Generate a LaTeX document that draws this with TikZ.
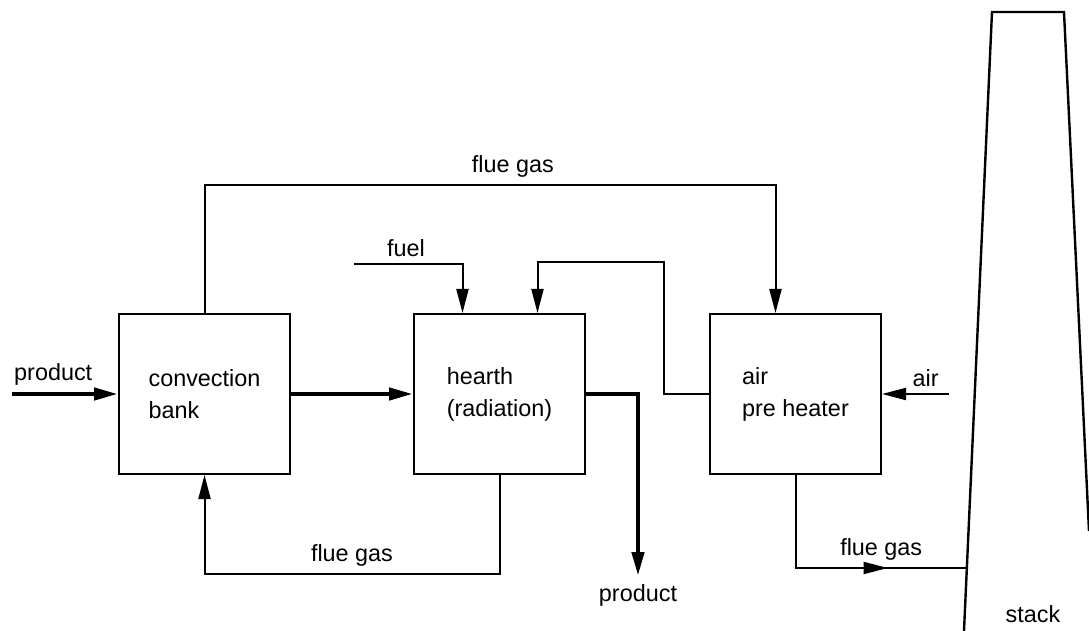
\documentclass[tikz,border=0pt]{standalone}
\usepackage{fontspec}
\setmainfont{Liberation Sans}
\usetikzlibrary{arrows.meta,positioning,calc,decorations.markings}
\tikzset{
  box/.style={draw,line width=1pt,minimum width=85.5pt,minimum height=80pt,align=left,inner sep=0pt},
  flow/.style={-{Triangle[length=12pt,width=6pt]},line width=1pt},
  thickflow/.style={flow,line width=2.2pt},
  midflow/.style={line width=1pt,postaction={decorate},
    decoration={markings,mark=at position 0.7 with {\arrow{Triangle[length=12pt,width=6pt]}}}},
  stackline/.style={line width=1.2pt,line join=miter}
}

\begin{document}
\begin{tikzpicture}[x=0.5pt,y=-0.5pt,node distance=61pt,font=\fontsize{11.7}{16}\selectfont]
  \useasboundingbox (0,0) rectangle (1089,631);
  \node[box] (conv) at (204.5,394) {convection\\bank};
  \node[box,right=of conv] (hearth) {hearth\\(radiation)};
  \node[box,right=61.5pt of hearth] (aph) {air\\pre heater};
  \coordinate (prodin) at (12,394);
  \coordinate (fuelin) at (354,264);
  \coordinate (airin) at (949,394);
  \coordinate (prodout) at (638,576);
  \coordinate (stackin) at (967,568);
  % stack
  \draw[stackline] (964,631) -- (992,12) -- (1064,12) -- (1089,531);
  \node (stacklabel) at (1033,614) {stack};
  % product line
  \draw[thickflow] (prodin) node[anchor=south west,inner xsep=0pt] {product} -- (conv.west);
  \draw[thickflow] (conv) -- (hearth);
  \draw[thickflow] (hearth.east) -| (prodout) node[below] {product};
  % fuel and air
  \draw[flow] (fuelin) -| node[pos=0.24,above] {fuel} ($(hearth.north)+(-37,0)$);
  \draw[flow] (airin) -- node[pos=0.35,above] {air} (aph.east);
  \draw[flow] (aph.west) -- ++(-45,0) |- ($(hearth.north)+(38,-51)$) -- ($(hearth.north)+(38,0)$);
  % flue gas
  \draw[flow] (conv.north) -- ++(0,-128) -| node[pos=0.27,above] {flue gas} ($(aph.north)+(-20,0)$);
  \draw[flow] (hearth.south) -- ++(0,99) -| node[pos=0.25,above] {flue gas} (conv.south);
  \draw[midflow] (aph.south) |- node[pos=0.75,above] {flue gas} (stackin);
\end{tikzpicture}
\end{document}
